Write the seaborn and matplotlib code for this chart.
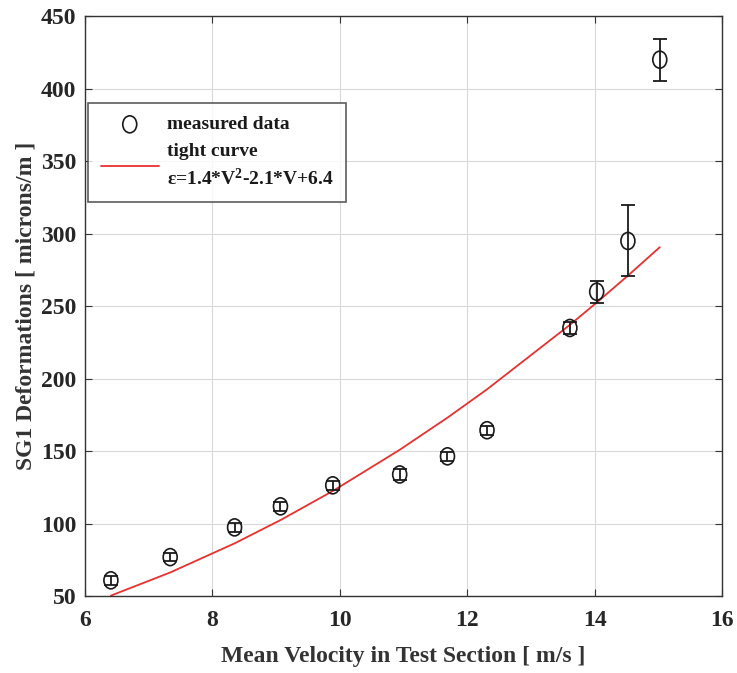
import matplotlib
matplotlib.use("Agg")
import matplotlib.pyplot as plt
from matplotlib.path import Path
import numpy as np
import pandas as pd
import seaborn as sns

velocity = [6.41, 7.34, 8.35, 9.07, 9.89, 10.94, 11.69, 12.31, 13.61, 14.03, 14.52, 15.02]
deformation = [61, 77, 97.5, 112, 126.5, 134, 146.5, 164.5, 235, 260, 295, 420]
error = [3, 3, 3, 3, 3, 4, 3, 3, 4, 7.5, 24.5, 14.5]

# tight curve coefficients (from legend)
coeffs = [1.4, -2.1, 6.4]

df = pd.DataFrame({"v": velocity, "eps": deformation, "err": error})
df["fit"] = np.polyval(coeffs, df["v"])

# slightly tall circle, like the stretched original
circ = Path.unit_circle()
oval = Path(circ.vertices * [0.82, 1.0], circ.codes)

sns.set_style("white")
plt.rcParams["font.family"] = ["Liberation Serif", "DejaVu Serif"]
plt.rcParams["font.weight"] = "bold"
plt.rcParams["mathtext.fontset"] = "custom"
plt.rcParams["mathtext.rm"] = "Liberation Serif:bold"
plt.rcParams["mathtext.bf"] = "Liberation Serif:bold"
plt.rcParams["mathtext.default"] = "bf"

fig = plt.figure(figsize=(7.37, 6.73), dpi=100)
ax = fig.add_axes([0.115, 0.114, 0.865, 0.862])

ax.errorbar(df["v"], df["eps"], yerr=df["err"], fmt="none", ecolor="#1a1a1a",
            elinewidth=1.3, capsize=5, capthick=1.3, zorder=3)
sns.scatterplot(data=df, x="v", y="eps", ax=ax, marker=oval, s=150,
                facecolor="none", edgecolor="#1a1a1a", linewidth=1.2,
                label="measured data", zorder=4)
sns.lineplot(data=df, x="v", y="fit", ax=ax, color="#e8312f", linewidth=1.3,
             label="tight curve\n\u03b5=1.4*V$^{2}$-2.1*V+6.4", zorder=2)

ax.set_xlim(6, 16)
ax.set_ylim(50, 450)
ax.set_xticks(range(6, 17, 2))
ax.set_yticks(range(50, 451, 50))
ax.grid(True, color="#d9d9d9", linewidth=0.8)
ax.tick_params(direction="in", length=5, labelsize=17, top=True, right=True,
               bottom=True, left=True, color="#333333", labelcolor="#262626")
ax.tick_params(axis="x", pad=10)
ax.tick_params(axis="y", pad=6)
for lab in ax.get_xticklabels() + ax.get_yticklabels():
    lab.set_fontweight("bold")
for sp in ax.spines.values():
    sp.set_color("#333333")
    sp.set_linewidth(1.0)

ax.set_xlabel("Mean Velocity in Test Section [ m/s ]", fontsize=17, fontweight="bold",
              color="#333333", labelpad=11)
ax.set_ylabel("SG1 Deformations [ microns/m ]", fontsize=17, fontweight="bold",
              color="#333333", labelpad=3)

leg = ax.legend(loc="upper left", bbox_to_anchor=(0.005, 0.85), borderaxespad=0,
                fontsize=14, frameon=True, fancybox=False, edgecolor="#333333",
                handlelength=3.0, handletextpad=0.4, borderpad=0.65,
                labelspacing=0.5)
leg.get_frame().set_linewidth(1.2)
for t in leg.get_texts():
    t.set_fontweight("bold")
    t.set_linespacing(1.45)
    t.set_color("#1a1a1a")

fig.savefig("out.png", dpi=100)
